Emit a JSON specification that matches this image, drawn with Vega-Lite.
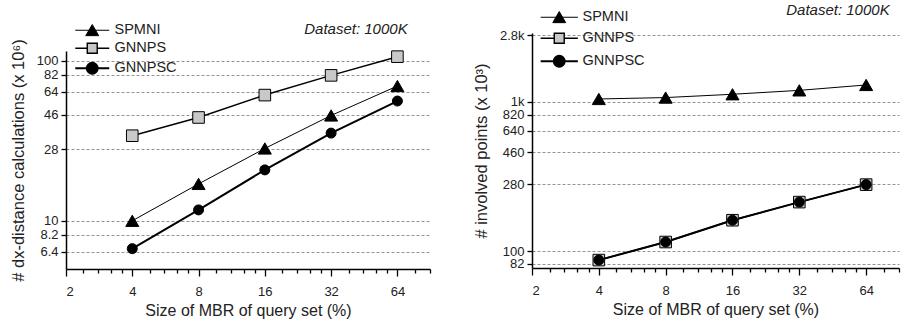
{
  "$schema": "https://vega.github.io/schema/vega-lite/v6.json",
  "background": "white",
  "padding": {"left": 10, "top": 3, "right": 5, "bottom": 5},
  "config": {
    "font": "Liberation Sans",
    "view": {"stroke": null},
    "axis": {
      "labelFont": "Liberation Sans", "labelFontSize": 13, "labelColor": "#222", "labelOverlap": false,
      "titleFont": "Liberation Sans", "titleFontSize": 16, "titleFontWeight": "normal", "titleColor": "#222",
      "domainColor": "black", "domainWidth": 1.5, "tickColor": "black", "tickWidth": 1.3,
      "gridColor": "#777", "gridDash": [3, 2], "gridWidth": 0.8
    },
    "legend": {"labelFont": "Liberation Sans", "labelFontSize": 14.5, "labelColor": "#222", "padding": 0, "symbolOpacity": 1},
    "title": {"font": "Liberation Sans", "fontSize": 15, "fontStyle": "italic", "fontWeight": "normal", "anchor": "end", "color": "#222"},
    "concat": {"spacing": 42}
  },
  "datasets": {
    "dist": [
      {"size": 4, "method": "SPMNI", "value": 10},
      {"size": 8, "method": "SPMNI", "value": 17},
      {"size": 16, "method": "SPMNI", "value": 28.3},
      {"size": 32, "method": "SPMNI", "value": 45.5},
      {"size": 64, "method": "SPMNI", "value": 69.5},
      {"size": 4, "method": "GNNPS", "value": 34},
      {"size": 8, "method": "GNNPS", "value": 44.2},
      {"size": 16, "method": "GNNPS", "value": 61},
      {"size": 32, "method": "GNNPS", "value": 81},
      {"size": 64, "method": "GNNPS", "value": 106},
      {"size": 4, "method": "GNNPSC", "value": 6.7},
      {"size": 8, "method": "GNNPSC", "value": 11.7},
      {"size": 16, "method": "GNNPSC", "value": 20.8},
      {"size": 32, "method": "GNNPSC", "value": 35.3},
      {"size": 64, "method": "GNNPSC", "value": 56}
    ],
    "pts": [
      {"size": 4, "method": "SPMNI", "value": 1047},
      {"size": 8, "method": "SPMNI", "value": 1070},
      {"size": 16, "method": "SPMNI", "value": 1126},
      {"size": 32, "method": "SPMNI", "value": 1196},
      {"size": 64, "method": "SPMNI", "value": 1300},
      {"size": 4, "method": "GNNPS", "value": 87},
      {"size": 8, "method": "GNNPS", "value": 115},
      {"size": 16, "method": "GNNPS", "value": 161},
      {"size": 32, "method": "GNNPS", "value": 213},
      {"size": 64, "method": "GNNPS", "value": 279},
      {"size": 4, "method": "GNNPSC", "value": 87},
      {"size": 8, "method": "GNNPSC", "value": 115},
      {"size": 16, "method": "GNNPSC", "value": 161},
      {"size": 32, "method": "GNNPSC", "value": 213},
      {"size": 64, "method": "GNNPSC", "value": 279}
    ]
  },
  "hconcat": [
    {
      "width": 364, "height": 236,
      "title": {"text": "Dataset: 1000K", "dx": -23, "offset": 12, "dy": 26},
      "data": {"name": "dist"},
      "layer": [
        {
          "mark": {"type": "line", "color": "black"},
          "encoding": {
            "x": {"field": "size", "type": "quantitative",
              "scale": {"type": "log", "base": 2, "domain": [2, 90], "nice": false},
              "axis": {"orient": "bottom", "values": [2, 4, 8, 16, 32, 64], "format": "d", "grid": false, "tickSize": 7, "labelPadding": 9, "title": "Size of MBR of query set (%)", "titlePadding": 4}},
            "y": {"field": "value", "type": "quantitative",
              "scale": {"type": "log", "domain": [5, 115], "range": [236, 18], "nice": false},
              "axis": {"values": [6.4, 8.2, 10, 28, 46, 64, 82, 100], "grid": true, "tickSize": 5, "labelPadding": 3, "title": "# dx-distance calculations (x 10⁶)", "titleFontSize": 16.5, "titlePadding": 10}},
            "strokeWidth": {"field": "method", "type": "nominal",
              "scale": {"domain": ["SPMNI", "GNNPS", "GNNPSC"], "range": [1, 2, 2]}, "legend": null}
          }
        },
        {
          "mark": {"type": "point", "filled": true, "stroke": "black", "strokeWidth": 1, "opacity": 1},
          "encoding": {
            "x": {"field": "size", "type": "quantitative",
              "axis": {"orient": "bottom", "values": [2.4, 2.8, 3.2, 3.6, 4.8, 5.6, 6.4, 7.2, 9.6, 11.2, 12.8, 14.4, 19.2, 22.4, 25.6, 28.8, 38.4, 44.8, 51.2, 57.6, 76.8, 89.6], "labels": false, "domain": false, "grid": false, "tickSize": 4, "title": null}},
            "y": {"field": "value", "type": "quantitative"},
            "shape": {"field": "method", "type": "nominal",
              "scale": {"domain": ["SPMNI", "GNNPS", "GNNPSC"], "range": ["triangle-up", "square", "circle"]}, "legend": null},
            "fill": {"field": "method", "type": "nominal",
              "scale": {"domain": ["SPMNI", "GNNPS", "GNNPSC"], "range": ["black", "#c8c8c8", "black"]}, "legend": null},
            "size": {"field": "method", "type": "nominal",
              "scale": {"domain": ["SPMNI", "GNNPS", "GNNPSC"], "range": [169, 100, 121]}, "legend": null}
          }
        },
        {
          "transform": [{"filter": "datum.size > 1000"}],
          "mark": {"type": "point", "filled": true, "stroke": "black"},
          "encoding": {
            "x": {"field": "size", "type": "quantitative", "axis": null},
            "y": {"field": "value", "type": "quantitative"},
            "shape": {"field": "method", "type": "nominal",
              "scale": {"domain": ["SPMNI", "GNNPS", "GNNPSC"], "range": [
                "M-2.83,0H2.83M0,-0.95L1.08,0.9L-1.08,0.9Z",
                "M-2.83,0H-0.83M0.83,0H2.83M-0.83,-0.83H0.83V0.83H-0.83Z",
                "M-2.83,0H2.83M0.92,0A0.92,0.92,0,1,1,-0.92,0A0.92,0.92,0,1,1,0.92,0Z"]},
              "legend": {"orient": "none", "legendX": 19, "legendY": -10, "title": null, "symbolSize": 144, "labelOffset": 15, "rowPadding": 2}},
            "fill": {"field": "method", "type": "nominal",
              "scale": {"domain": ["SPMNI", "GNNPS", "GNNPSC"], "range": ["black", "#c8c8c8", "black"]},
              "legend": {"orient": "none", "legendX": 19, "legendY": -10, "title": null, "symbolSize": 144, "labelOffset": 15, "rowPadding": 2}},
            "strokeWidth": {"field": "method", "type": "nominal",
              "scale": {"domain": ["SPMNI", "GNNPS", "GNNPSC"], "range": [1, 1.8, 1.8]},
              "legend": {"orient": "none", "legendX": 19, "legendY": -10, "title": null, "symbolSize": 144, "labelOffset": 15, "rowPadding": 2}}
          }
        }
      ],
      "resolve": {"axis": {"x": "independent"}, "scale": {"shape": "independent", "fill": "independent", "strokeWidth": "independent"}}
    },
    {
      "width": 367, "height": 235,
      "title": {"text": "Dataset: 1000K", "dx": -10, "offset": 12, "dy": 20},
      "data": {"name": "pts"},
      "layer": [
        {
          "mark": {"type": "line", "color": "black"},
          "encoding": {
            "x": {"field": "size", "type": "quantitative",
              "scale": {"type": "log", "base": 2, "domain": [2, 90], "nice": false},
              "axis": {"orient": "bottom", "values": [2, 4, 8, 16, 32, 64], "format": "d", "grid": false, "tickSize": 7, "labelPadding": 9, "title": "Size of MBR of query set (%)", "titlePadding": 4}},
            "y": {"field": "value", "type": "quantitative",
              "scale": {"type": "log", "domain": [77, 2900], "nice": false},
              "axis": {"values": [82, 100, 280, 460, 640, 820, 1000, 2800], "labelExpr": "datum.value >= 1000 ? format(datum.value / 1000, '') + 'k' : format(datum.value, '')", "grid": true, "tickSize": 5, "labelPadding": 3, "title": "# involved points (x 10³)", "titleFontSize": 16.5, "titlePadding": 10}},
            "strokeWidth": {"field": "method", "type": "nominal",
              "scale": {"domain": ["SPMNI", "GNNPS", "GNNPSC"], "range": [1, 2, 2]}, "legend": null}
          }
        },
        {
          "mark": {"type": "point", "filled": true, "stroke": "black", "strokeWidth": 1, "opacity": 1},
          "encoding": {
            "x": {"field": "size", "type": "quantitative",
              "axis": {"orient": "bottom", "values": [2.4, 2.8, 3.2, 3.6, 4.8, 5.6, 6.4, 7.2, 9.6, 11.2, 12.8, 14.4, 19.2, 22.4, 25.6, 28.8, 38.4, 44.8, 51.2, 57.6, 76.8, 89.6], "labels": false, "domain": false, "grid": false, "tickSize": 4, "title": null}},
            "y": {"field": "value", "type": "quantitative"},
            "shape": {"field": "method", "type": "nominal",
              "scale": {"domain": ["SPMNI", "GNNPS", "GNNPSC"], "range": ["triangle-up", "square", "circle"]}, "legend": null},
            "fill": {"field": "method", "type": "nominal",
              "scale": {"domain": ["SPMNI", "GNNPS", "GNNPSC"], "range": ["black", "#c8c8c8", "black"]}, "legend": null},
            "size": {"field": "method", "type": "nominal",
              "scale": {"domain": ["SPMNI", "GNNPS", "GNNPSC"], "range": [169, 100, 121]}, "legend": null}
          }
        },
        {
          "transform": [{"filter": "datum.size > 1000"}],
          "mark": {"type": "point", "filled": true, "stroke": "black"},
          "encoding": {
            "x": {"field": "size", "type": "quantitative", "axis": null},
            "y": {"field": "value", "type": "quantitative"},
            "shape": {"field": "method", "type": "nominal",
              "scale": {"domain": ["SPMNI", "GNNPS", "GNNPSC"], "range": [
                "M-3.1,0H3.1M0,-0.95L1.08,0.9L-1.08,0.9Z",
                "M-3.1,0H-0.83M0.83,0H3.1M-0.83,-0.83H0.83V0.83H-0.83Z",
                "M-3.1,0H3.1M0.92,0A0.92,0.92,0,1,1,-0.92,0A0.92,0.92,0,1,1,0.92,0Z"]},
              "legend": {"orient": "none", "legendX": 20, "legendY": -23, "title": null, "symbolSize": 144, "labelOffset": 16, "rowPadding": 5}},
            "fill": {"field": "method", "type": "nominal",
              "scale": {"domain": ["SPMNI", "GNNPS", "GNNPSC"], "range": ["black", "#c8c8c8", "black"]},
              "legend": {"orient": "none", "legendX": 20, "legendY": -23, "title": null, "symbolSize": 144, "labelOffset": 16, "rowPadding": 5}},
            "strokeWidth": {"field": "method", "type": "nominal",
              "scale": {"domain": ["SPMNI", "GNNPS", "GNNPSC"], "range": [1, 1.8, 1.8]},
              "legend": {"orient": "none", "legendX": 20, "legendY": -23, "title": null, "symbolSize": 144, "labelOffset": 16, "rowPadding": 5}}
          }
        }
      ],
      "resolve": {"axis": {"x": "independent"}, "scale": {"shape": "independent", "fill": "independent", "strokeWidth": "independent"}}
    }
  ]
}
